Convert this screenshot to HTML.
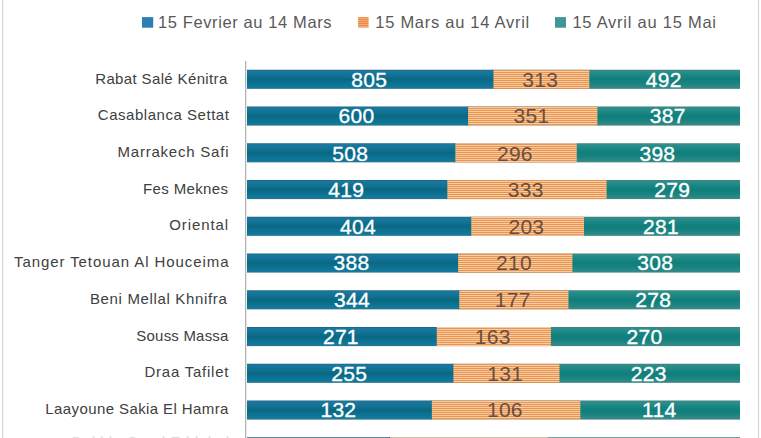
<!DOCTYPE html>
<html><head><meta charset="utf-8"><title>chart</title>
<style>
html,body{margin:0;padding:0;background:#fff;}
body{width:761px;height:438px;position:relative;overflow:hidden;font-family:"Liberation Sans",sans-serif;}
svg{position:absolute;left:0;top:0;}
.cat{position:absolute;white-space:nowrap;font-size:15px;color:#404040;line-height:20px;height:20px;}
.dl{position:absolute;white-space:nowrap;font-size:21px;letter-spacing:0.3px;line-height:20px;height:20px;text-align:center;transform:translateX(-50%);}
.w{color:#fff;-webkit-text-stroke:0.35px #fff;}
.g{color:#684e40;}
.lg{position:absolute;top:11.4px;font-size:16.5px;color:#595959;white-space:nowrap;line-height:22px;height:22px;}
</style></head><body>
<svg width="761" height="438" viewBox="0 0 761 438">
<defs>
<linearGradient id="gb" x1="0" y1="0" x2="0" y2="1">
<stop offset="0" stop-color="#275f79"/><stop offset="0.07" stop-color="#1879a2"/><stop offset="0.35" stop-color="#117091"/><stop offset="0.5" stop-color="#096880"/><stop offset="0.75" stop-color="#0d7395"/><stop offset="0.93" stop-color="#107a9e"/><stop offset="1" stop-color="#3e6f7e"/>
</linearGradient>
<linearGradient id="gt" x1="0" y1="0" x2="0" y2="1">
<stop offset="0" stop-color="#4a7b78"/><stop offset="0.075" stop-color="#2b908d"/><stop offset="0.35" stop-color="#18847f"/><stop offset="0.5" stop-color="#0e7f7b"/><stop offset="0.7" stop-color="#19827f"/><stop offset="0.925" stop-color="#2c8b88"/><stop offset="1" stop-color="#4f8180"/>
</linearGradient>
<pattern id="po" patternUnits="userSpaceOnUse" x="0" y="0" width="8" height="2"><rect x="0" y="0" width="8" height="2" fill="#f8cba2"/><rect x="0" y="0" width="8" height="1" fill="#e9954f"/></pattern>
<pattern id="pm" patternUnits="userSpaceOnUse" x="0" y="1" width="8" height="2"><rect x="0" y="0" width="8" height="2" fill="#f5ab75"/><rect x="0" y="0" width="8" height="1" fill="#ea8743"/></pattern>
</defs>
<rect x="2" y="0" width="1.2" height="438" fill="#d6d6d6"/>
<rect x="757.9" y="0" width="1.2" height="438" fill="#d6d6d6"/>
<rect x="245" y="61" width="1.3" height="377" fill="#b3b3b3"/>
<rect x="142" y="17.1" width="11.2" height="10.6" fill="#2b7fb2"/>
<rect x="358.1" y="17.1" width="10.5" height="10.5" fill="url(#pm)"/>
<rect x="555" y="17.1" width="11" height="10.6" fill="#3f9693"/>
<rect x="492.50" y="69.75" width="247.50" height="19.1" fill="url(#gt)"/>
<rect x="247.00" y="69.75" width="246.50" height="19.1" fill="url(#gb)"/>
<rect x="493.50" y="69.75" width="95.84" height="19.1" fill="url(#po)"/>
<rect x="467.08" y="106.50" width="272.92" height="19.1" fill="url(#gt)"/>
<rect x="247.00" y="106.50" width="221.08" height="19.1" fill="url(#gb)"/>
<rect x="468.08" y="106.50" width="129.33" height="19.1" fill="url(#po)"/>
<rect x="454.36" y="143.25" width="285.64" height="19.1" fill="url(#gt)"/>
<rect x="247.00" y="143.25" width="208.36" height="19.1" fill="url(#gb)"/>
<rect x="455.36" y="143.25" width="121.40" height="19.1" fill="url(#po)"/>
<rect x="446.36" y="180.00" width="293.64" height="19.1" fill="url(#gt)"/>
<rect x="247.00" y="180.00" width="200.36" height="19.1" fill="url(#gb)"/>
<rect x="447.36" y="180.00" width="159.23" height="19.1" fill="url(#po)"/>
<rect x="470.29" y="216.75" width="269.71" height="19.1" fill="url(#gt)"/>
<rect x="247.00" y="216.75" width="224.29" height="19.1" fill="url(#gb)"/>
<rect x="471.29" y="216.75" width="112.70" height="19.1" fill="url(#po)"/>
<rect x="457.13" y="253.50" width="282.87" height="19.1" fill="url(#gt)"/>
<rect x="247.00" y="253.50" width="211.13" height="19.1" fill="url(#gb)"/>
<rect x="458.13" y="253.50" width="114.27" height="19.1" fill="url(#po)"/>
<rect x="458.26" y="290.25" width="281.74" height="19.1" fill="url(#gt)"/>
<rect x="247.00" y="290.25" width="212.26" height="19.1" fill="url(#gb)"/>
<rect x="459.26" y="290.25" width="109.21" height="19.1" fill="url(#po)"/>
<rect x="435.78" y="327.00" width="304.22" height="19.1" fill="url(#gt)"/>
<rect x="247.00" y="327.00" width="189.78" height="19.1" fill="url(#gb)"/>
<rect x="436.78" y="327.00" width="114.15" height="19.1" fill="url(#po)"/>
<rect x="452.43" y="363.75" width="287.57" height="19.1" fill="url(#gt)"/>
<rect x="247.00" y="363.75" width="206.43" height="19.1" fill="url(#gb)"/>
<rect x="453.43" y="363.75" width="106.05" height="19.1" fill="url(#po)"/>
<rect x="430.88" y="400.50" width="309.12" height="19.1" fill="url(#gt)"/>
<rect x="247.00" y="400.50" width="184.88" height="19.1" fill="url(#gb)"/>
<rect x="431.88" y="400.50" width="148.46" height="19.1" fill="url(#po)"/>
<rect x="388.97" y="437.25" width="351.03" height="19.1" fill="url(#gt)"/>
<rect x="247.00" y="437.25" width="142.97" height="19.1" fill="url(#gb)"/>
<rect x="389.97" y="437.25" width="157.76" height="19.1" fill="url(#po)"/>
</svg>
<div class="lg" style="left:158px;letter-spacing:0.61px">15 Fevrier au 14 Mars</div>
<div class="lg" style="left:375.3px;letter-spacing:0.72px">15 Mars au 14 Avril</div>
<div class="lg" style="left:572.4px;letter-spacing:0.75px">15 Avril au 15 Mai</div>
<div class="cat" style="top:69.0px;right:533.4px;letter-spacing:0.36px">Rabat Salé Kénitra</div>
<div class="dl w" style="left:369.2px;top:70.1px">805</div>
<div class="dl g" style="left:540.2px;top:70.1px">313</div>
<div class="dl w" style="left:663.7px;top:70.1px">492</div>
<div class="cat" style="top:105.0px;right:531.6px;letter-spacing:0.53px">Casablanca Settat</div>
<div class="dl w" style="left:356.5px;top:106.2px">600</div>
<div class="dl g" style="left:531.5px;top:106.2px">351</div>
<div class="dl w" style="left:667.7px;top:106.2px">387</div>
<div class="cat" style="top:141.8px;right:531.7px;letter-spacing:0.78px">Marrakech Safi</div>
<div class="dl w" style="left:350.2px;top:143.6px">508</div>
<div class="dl g" style="left:514.9px;top:143.6px">296</div>
<div class="dl w" style="left:657.4px;top:143.6px">398</div>
<div class="cat" style="top:178.6px;right:532.6px;letter-spacing:0.37px">Fes Meknes</div>
<div class="dl w" style="left:346.2px;top:180.4px">419</div>
<div class="dl g" style="left:525.8px;top:180.4px">333</div>
<div class="dl w" style="left:672.3px;top:180.4px">279</div>
<div class="cat" style="top:215.3px;right:532.0px;letter-spacing:0.9px">Oriental</div>
<div class="dl w" style="left:358.1px;top:217.1px">404</div>
<div class="dl g" style="left:526.4px;top:217.1px">203</div>
<div class="dl w" style="left:661.0px;top:217.1px">281</div>
<div class="cat" style="top:252.0px;right:531.6px;letter-spacing:0.92px">Tanger Tetouan Al Houceima</div>
<div class="dl w" style="left:351.6px;top:253.2px">388</div>
<div class="dl g" style="left:514.1px;top:253.2px">210</div>
<div class="dl w" style="left:655.2px;top:253.2px">308</div>
<div class="cat" style="top:288.8px;right:533.5px;letter-spacing:0.66px">Beni Mellal Khnifra</div>
<div class="dl w" style="left:352.1px;top:289.9px">344</div>
<div class="dl g" style="left:512.7px;top:289.9px">177</div>
<div class="dl w" style="left:653.2px;top:289.9px">278</div>
<div class="cat" style="top:325.6px;right:532.4px;letter-spacing:0.2px">Souss Massa</div>
<div class="dl w" style="left:340.9px;top:327.3px">271</div>
<div class="dl g" style="left:492.7px;top:327.3px">163</div>
<div class="dl w" style="left:644.5px;top:327.3px">270</div>
<div class="cat" style="top:362.3px;right:531.8px;letter-spacing:0.76px">Draa Tafilet</div>
<div class="dl w" style="left:349.2px;top:364.1px">255</div>
<div class="dl g" style="left:505.3px;top:364.1px">131</div>
<div class="dl w" style="left:648.7px;top:364.1px">223</div>
<div class="cat" style="top:399.1px;right:532.2px;letter-spacing:0.4px">Laayoune Sakia El Hamra</div>
<div class="dl w" style="left:338.4px;top:400.1px">132</div>
<div class="dl g" style="left:504.9px;top:400.1px">106</div>
<div class="dl w" style="left:659.2px;top:400.1px">114</div>
<div class="cat" style="top:431.6px;right:526.4px;letter-spacing:0.6px;color:#dcdcdc">Dakhla Oued Eddahab</div>
</body></html>
